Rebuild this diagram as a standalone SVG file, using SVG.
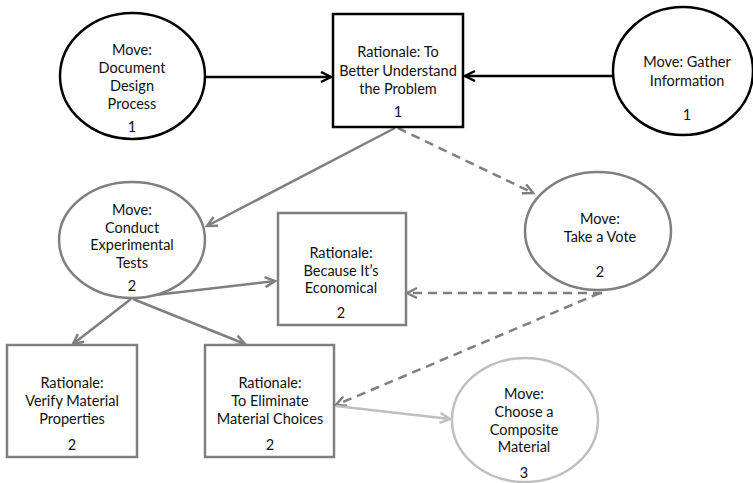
<svg xmlns="http://www.w3.org/2000/svg" width="753" height="483" viewBox="0 0 753 483">
<style>
text{font-family:Lato,"Liberation Sans",Arial,sans-serif;font-size:14.5px;fill:#111;text-anchor:middle}
.k{fill:#fff;stroke:#000;stroke-width:2.5}
.g{fill:#fff;stroke:#7f7f7f;stroke-width:2.5}
.l{fill:#fff;stroke:#bfbfbf;stroke-width:2.5}
.ck{stroke:#000;stroke-width:2.5;fill:none}
.cg{stroke:#7f7f7f;stroke-width:2.5;fill:none}
.cd{stroke:#7f7f7f;stroke-width:2.5;fill:none;stroke-dasharray:9 6}
.cl{stroke:#bfbfbf;stroke-width:2.5;fill:none}
</style>
<defs>
<marker id="ak" markerUnits="userSpaceOnUse" markerWidth="14" markerHeight="14" refX="11" refY="6" orient="auto"><path d="M1,1 L11,6 L1,11" fill="none" stroke="#000" stroke-width="2.5"/></marker>
<marker id="ag" markerUnits="userSpaceOnUse" markerWidth="14" markerHeight="14" refX="11" refY="6" orient="auto"><path d="M1,1 L11,6 L1,11" fill="none" stroke="#7f7f7f" stroke-width="2.5"/></marker>
<marker id="al" markerUnits="userSpaceOnUse" markerWidth="14" markerHeight="14" refX="11" refY="6" orient="auto"><path d="M1,1 L11,6 L1,11" fill="none" stroke="#bfbfbf" stroke-width="2.5"/></marker>
</defs>
<rect width="753" height="483" fill="#fff"/>
<g id="connectors">
<line class="ck" x1="205" y1="77" x2="331" y2="77" marker-end="url(#ak)"/>
<line class="ck" x1="613" y1="76" x2="465" y2="76" marker-end="url(#ak)"/>
<line class="cg" x1="395" y1="128" x2="207" y2="226" marker-end="url(#ag)"/>
<line class="cd" x1="398" y1="128" x2="533" y2="193" marker-end="url(#ag)"/>
<line class="cg" x1="138" y1="297" x2="275" y2="281" marker-end="url(#ag)"/>
<line class="cg" x1="131" y1="299" x2="73" y2="344" marker-end="url(#ag)"/>
<line class="cg" x1="133" y1="299" x2="245" y2="344" marker-end="url(#ag)"/>
<line class="cd" x1="602" y1="293" x2="407" y2="293" marker-end="url(#ag)"/>
<line class="cd" x1="600" y1="293" x2="336" y2="405" marker-end="url(#ag)"/>
<line class="cl" x1="336" y1="406" x2="450" y2="419" marker-end="url(#al)"/>
</g>
<g id="n1">
<ellipse class="k" cx="132.5" cy="76" rx="72.5" ry="63"/>
<text x="132" y="55">Move:</text>
<text x="132" y="73">Document</text>
<text x="132" y="91">Design</text>
<text x="132" y="109">Process</text>
<text x="132" y="132">1</text>
</g>
<g id="n2">
<rect class="k" x="333" y="14" width="130" height="113"/>
<text x="398" y="57">Rationale: To</text>
<text x="398" y="76">Better Understand</text>
<text x="398" y="94">the Problem</text>
<text x="398" y="117">1</text>
</g>
<g id="n3">
<ellipse class="k" cx="683" cy="71" rx="70" ry="64"/>
<text x="687" y="67">Move: Gather</text>
<text x="687" y="86">Information</text>
<text x="687" y="120">1</text>
</g>
<g id="n4">
<ellipse class="g" cx="132" cy="240" rx="73" ry="58"/>
<text x="132" y="215">Move:</text>
<text x="132" y="233">Conduct</text>
<text x="132" y="250">Experimental</text>
<text x="132" y="268">Tests</text>
<text x="132" y="291">2</text>
</g>
<g id="n5">
<rect class="g" x="278" y="213" width="128" height="112"/>
<text x="341" y="258">Rationale:</text>
<text x="341" y="276">Because It’s</text>
<text x="341" y="293">Economical</text>
<text x="341" y="318">2</text>
</g>
<g id="n6">
<ellipse class="g" cx="598" cy="231" rx="73" ry="59"/>
<text x="600" y="224">Move:</text>
<text x="600" y="242">Take a Vote</text>
<text x="600" y="277">2</text>
</g>
<g id="n7">
<rect class="g" x="7" y="345" width="130" height="112"/>
<text x="72" y="388">Rationale:</text>
<text x="72" y="406">Verify Material</text>
<text x="72" y="424">Properties</text>
<text x="72" y="450">2</text>
</g>
<g id="n8">
<rect class="g" x="205" y="345" width="129" height="112"/>
<text x="270" y="388">Rationale:</text>
<text x="270" y="406">To Eliminate</text>
<text x="270" y="424">Material Choices</text>
<text x="270" y="450">2</text>
</g>
<g id="n9">
<ellipse class="l" cx="525" cy="420" rx="73" ry="62"/>
<text x="524" y="399">Move:</text>
<text x="524" y="417">Choose a</text>
<text x="524" y="435">Composite</text>
<text x="524" y="452">Material</text>
<text x="524" y="478">3</text>
</g>
</svg>
